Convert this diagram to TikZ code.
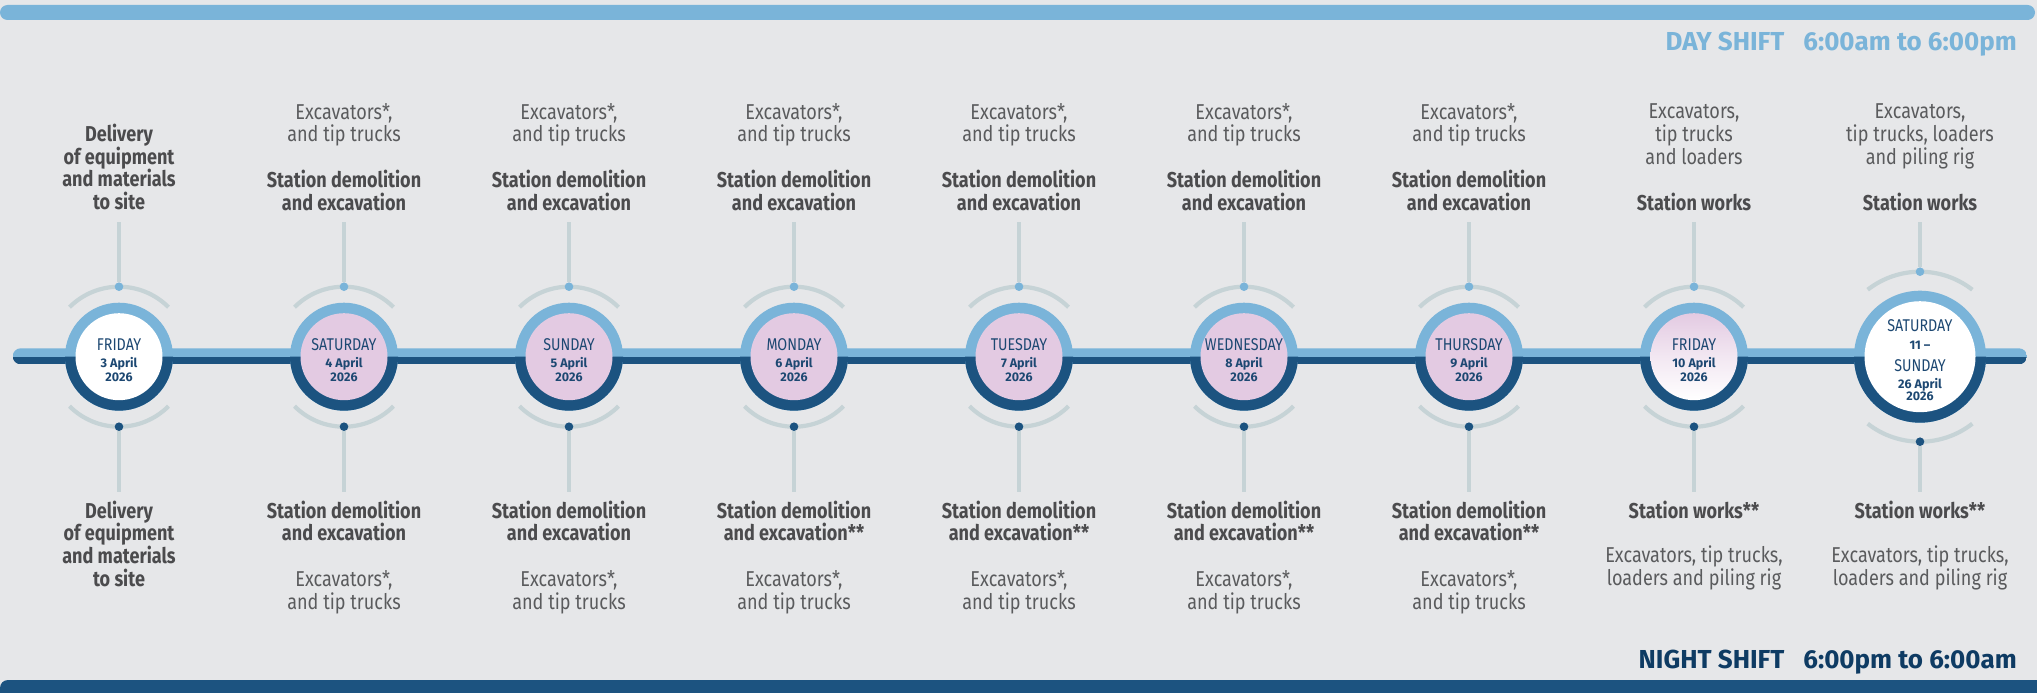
\documentclass[tikz,border=0pt]{standalone}
\usepackage{fontspec}
\setmainfont{Fira Sans}[FakeStretch=0.84]
\newfontfamily\wideff{Fira Sans}
\definecolor{bgc}{HTML}{E6E7E9}
\definecolor{lb}{HTML}{7AB4D9}
\definecolor{db}{HTML}{1C5380}
\definecolor{lav}{HTML}{E3CAE2}
\definecolor{grayln}{HTML}{C6D3D6}
\definecolor{titlec}{HTML}{4B4B4D}
\definecolor{eqc}{HTML}{5A5B5D}
\definecolor{circc}{HTML}{1D4872}
\definecolor{nightc}{HTML}{0E3B63}
\newcommand\ml[2]{\parbox[#1]{240pt}{\centering #2}}
\newcommand\dn[1]{{\rmfamily\mdseries\fontsize{17}{12}\selectfont #1}}
\newcommand\stopmark[7]{%
 \coordinate (#1) at (#2,356.7);
 \draw[arcln] (#1) ++({270-#6}:#5) arc[start angle={270-#6},end angle={270+#6},radius=#5];
 \draw[arcln] (#1) ++({90-#6}:#5) arc[start angle={90-#6},end angle={90+#6},radius=#5];
 \fill[lb] (#1) circle[radius=#3];
 \fill[db] (#1) ++(0:#3) arc[start angle=0,end angle=180,radius=#3] -- cycle;
 \node[circle,inner sep=0,minimum size={2*#4},#7] (#1c) at (#1) {};
 \path (#1) ++(270:#5) node[dotn,fill=lb] (#1t) {};
 \path (#1) ++(90:#5) node[dotn,fill=db] (#1b) {};
 \coordinate (#1tt) at (#2,222);
 \coordinate (#1bb) at (#2,492);
 \draw[vln] (#1t) -- (#1tt);
 \draw[vln] (#1b) -- (#1bb);
}
\begin{document}
\begin{tikzpicture}[x=1pt,y=-1pt,
  arcln/.style={grayln,line width=4.2pt},
  vln/.style={grayln,line width=4.5pt},
  dotn/.style={circle,inner sep=0,minimum size=8.6pt},
  ttl/.style={font=\fontsize{21.5}{22.6}\selectfont\bfseries,text=titlec,inner sep=0,anchor=base},
  eqt/.style={font=\fontsize{21.5}{22.6}\selectfont,text=eqc,inner sep=0,anchor=base},
  ctx/.style={font=\wideff\fontsize{12.5}{14.4}\selectfont\bfseries,text=circc,inner sep=0,anchor=base},
  ctxb/.style={font=\wideff\fontsize{12.5}{12}\selectfont\bfseries,text=circc,inner sep=0,anchor=base},
  hdr/.style={anchor=base east,inner sep=0,font=\wideff\fontsize{26}{30}\selectfont\bfseries},
]
\useasboundingbox (0,0) rectangle (2037,693);
\fill[bgc] (0,0) rectangle (2037,693);
% top and bottom bars
\fill[lb,rounded corners=7.5pt] (0,5) rectangle (2035,20);
\fill[db,rounded corners=8pt] (0,680) rectangle (2070,720);
% headers
\node[hdr,text=lb] (dayhdr) at (2017,50.7) {DAY SHIFT\hspace{19pt}6:00am to 6:00pm};
\node[hdr,text=nightc] (nighthdr) at (2017,668) {NIGHT SHIFT\hspace{19pt}6:00pm to 6:00am};
% band
\coordinate (bandL) at (12.7,348.3);
\coordinate (bandR) at (2027,364.3);
\begin{scope}
 \clip[rounded corners=8pt] (bandL) rectangle (bandR);
 \fill[lb] (12.7,348.3) rectangle (2027,356.5);
 \fill[db] (12.7,356.5) rectangle (2027,364.3);
\end{scope}
% stops
\stopmark{s0}{119}{54}{43.5}{70}{45}{fill=white}
\stopmark{s1}{344}{54}{43.5}{70}{45}{fill=lav}
\stopmark{s2}{569}{54}{43.5}{70}{45}{fill=lav}
\stopmark{s3}{794}{54}{43.5}{70}{45}{fill=lav}
\stopmark{s4}{1019}{54}{43.5}{70}{45}{fill=lav}
\stopmark{s5}{1244}{54}{43.5}{70}{45}{fill=lav}
\stopmark{s6}{1469}{54}{43.5}{70}{45}{fill=lav}
\stopmark{s7}{1694}{54}{43.5}{70}{45}{top color=lav,bottom color=white,middle color=white!55!lav}
\stopmark{s8}{1920}{66}{55.5}{85}{38}{fill=white}
% circle texts
\node[ctx] (s0x) at (119,350) {\ml{t}{\dn{FRIDAY}\\[2.9pt]\mbox{3 April}\\2026}};
\node[ctx] (s1x) at (344,350) {\ml{t}{\dn{SATURDAY}\\[2.9pt]\mbox{4 April}\\2026}};
\node[ctx] (s2x) at (569,350) {\ml{t}{\dn{SUNDAY}\\[2.9pt]\mbox{5 April}\\2026}};
\node[ctx] (s3x) at (794,350) {\ml{t}{\dn{MONDAY}\\[2.9pt]\mbox{6 April}\\2026}};
\node[ctx] (s4x) at (1019,350) {\ml{t}{\dn{TUESDAY}\\[2.9pt]\mbox{7 April}\\2026}};
\node[ctx] (s5x) at (1244,350) {\ml{t}{\dn{WEDNESDAY}\\[2.9pt]\mbox{8 April}\\2026}};
\node[ctx] (s6x) at (1469,350) {\ml{t}{\dn{THURSDAY}\\[2.9pt]\mbox{9 April}\\2026}};
\node[ctx] (s7x) at (1694,350) {\ml{t}{\dn{FRIDAY}\\[2.9pt]\mbox{10 April}\\2026}};
\node[ctxb] (s8x) at (1920,331.7) {\ml{t}{\dn{SATURDAY}\\[5.6pt]\mbox{11 –}\\[9.7pt]\dn{SUNDAY}\\[5.7pt]\mbox{26 April}\\2026}};
% day shift labels (top)
\node[ttl] (s0ut) at (119,209.3) {\ml{b}{Delivery\\of equipment\\and materials\\to site}};
\foreach \n/\x in {1/344,2/569,3/794,4/1019,5/1244,6/1469}{
  \node[eqt] (s\n ue) at (\x,141.7) {\ml{b}{Excavators*,\\and tip trucks}};
  \node[ttl] (s\n ut) at (\x,210) {\ml{b}{Station demolition\\and excavation}};
}
\node[eqt] (s7ue) at (1694,164) {\ml{b}{Excavators,\\tip trucks\\and loaders}};
\node[ttl] (s7ut) at (1694,210) {\ml{b}{Station works}};
\node[eqt] (s8ue) at (1920,164) {\ml{b}{Excavators,\\tip trucks, loaders\\and piling rig}};
\node[ttl] (s8ut) at (1920,210) {\ml{b}{Station works}};
% night shift labels (bottom)
\node[ttl] (s0dt) at (119,518.3) {\ml{t}{Delivery\\of equipment\\and materials\\to site}};
\foreach \n/\x/\st in {1/344/,2/569/,3/794/**,4/1019/**,5/1244/**,6/1469/**}{
  \node[ttl] (s\n dt) at (\x,518.3) {\ml{t}{Station demolition\\and excavation\st}};
  \node[eqt] (s\n de) at (\x,586.7) {\ml{t}{Excavators*,\\and tip trucks}};
}
\node[ttl] (s7dt) at (1694,518.3) {\ml{t}{Station works**}};
\node[eqt] (s7de) at (1694,562.7) {\ml{t}{Excavators, tip trucks,\\loaders and piling rig}};
\node[ttl] (s8dt) at (1920,518.3) {\ml{t}{Station works**}};
\node[eqt] (s8de) at (1920,562.7) {\ml{t}{Excavators, tip trucks,\\loaders and piling rig}};
\end{tikzpicture}
\end{document}
